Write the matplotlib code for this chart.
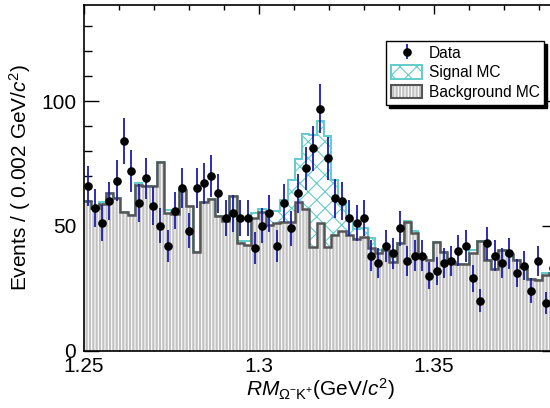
import numpy as np
import matplotlib
matplotlib.use("Agg")
import matplotlib.pyplot as plt
from matplotlib.patches import Patch
from matplotlib.ticker import MultipleLocator, FixedLocator, FixedFormatter

# ---------------- data ----------------
x_min, x_max, n_bins = 1.25, 1.385, 65

data_counts = [66, 57, 51, 60, 68, 84, 72, 59, 69, 58, 50, 42, 56, 65, 48, 65,
               67, 70, 63, 53, 55, 53, 53, 41, 50, 55, 42, 59, 49, 63, 73, 81,
               97, 77, 61, 60, 53, 51, 53, 38, 35, 42, 39, 49, 36, 38, 38, 30,
               32, 35, 36, 40, 42, 29, 20, 43, 38, 35, 39, 31, 34, 24, 36, 19, 33]

bkg_mc = [60, 57, 58.8, 63, 61, 55.7, 54.4, 66.3, 65.8, 66.1, 75.6, 55, 54.8, 64.5, 58, 39.3,
          59.4, 60.7, 54, 52, 61.8, 43.2, 42.3, 53.2, 55.4, 50.5, 51, 51.5, 51.7, 59.4, 56.8, 41.5,
          51, 41.5, 46.4, 48.1, 46.3, 44.7, 45.6, 41, 38.9, 40.1, 35.5, 43, 51.4, 47, 37.5, 36.4,
          43.5, 39.5, 35.4, 34.8, 34.8, 39.2, 44, 36.2, 32.5, 40.4, 38.7, 36.2, 33.4, 28.5, 28.4, 30.3, 31]

sig_mc = [0, 0, 0.6, 0, 0, 0, 0, 0.8, 0, 0, 0, 1.5, 0, 0, 0, 0,
          0, 0, 0, 0, 0, 0.5, 1.5, 2, 1.5, 4.5, 5, 9, 16.5, 17.5, 30, 45,
          41, 44.5, 22, 12, 7, 4, 3.5, 4, 1.5, 0.5, 2, 0, 0.5, 1, 0, 0,
          0, 0, 0, 0, 0, 1, 0, 0, 0, 0, 0, 0, 0, 0, 0, 0.8, 0]

x_ticks = [1.25, 1.3, 1.35]
x_tick_labels = ["1.25", "1.3", "1.35"]
y_ticks = [0, 50, 100]
y_tick_labels = ["0", "50", "100"]

# ---------------- style ----------------
plt.rcParams['font.family'] = ['Liberation Sans', 'DejaVu Sans']
plt.rcParams['mathtext.fontset'] = 'custom'
plt.rcParams['mathtext.rm'] = 'Liberation Sans'
plt.rcParams['mathtext.it'] = 'Liberation Sans:italic'
plt.rcParams['mathtext.bf'] = 'Liberation Sans:bold'
plt.rcParams['hatch.linewidth'] = 0.8

cyan = '#62cccc'
bg_fill = '#c2c2c2'
bg_line = '#555555'
err_col = '#1c1cb0'

edges = np.linspace(x_min, x_max, n_bins + 1)
centers = 0.5 * (edges[:-1] + edges[1:])
data = np.array(data_counts, dtype=float)
bkg = np.array(bkg_mc, dtype=float)
sig = np.array(sig_mc, dtype=float)
tot = bkg + sig

fig = plt.figure(figsize=(5.5, 4.08), dpi=100)
W, H = 550.0, 408.0
ax = fig.add_axes([84 / W, (H - 350.5) / H, 472.5 / W, 345.5 / H])
ax.set_axisbelow(True)

# background fill with white vertical hatch
ax.stairs(bkg, edges, baseline=0, fill=True, facecolor=bg_fill, edgecolor='white',
          hatch='|||||', linewidth=0, zorder=1)
# signal stacked on top, cyan cross hatch
ax.stairs(tot, edges, baseline=bkg, fill=True, facecolor='white', edgecolor=cyan,
          hatch='xx', linewidth=0, zorder=1.1)
ax.stairs(tot, edges, baseline=None, color=cyan, linewidth=1.4, zorder=1.2)
ax.stairs(bkg, edges, baseline=None, color=bg_line, linewidth=1.8, zorder=1.3)

eb = ax.errorbar(centers, data, yerr=np.sqrt(data), fmt='o', color='black',
                 markersize=5.2, ecolor=err_col, elinewidth=1.3, capsize=0, zorder=3)

ax.set_xlim(x_min, x_max)
ax.set_ylim(0, 138.5)

ax.xaxis.set_major_locator(FixedLocator(x_ticks))
ax.xaxis.set_major_formatter(FixedFormatter(x_tick_labels))
ax.xaxis.set_minor_locator(MultipleLocator(0.01))
ax.yaxis.set_major_locator(FixedLocator(y_ticks))
ax.yaxis.set_major_formatter(FixedFormatter(y_tick_labels))
ax.yaxis.set_minor_locator(MultipleLocator(10))

ax.tick_params(axis='both', which='both', direction='in', top=True, right=True,
               labelsize=15, width=1.0, colors='black')
ax.tick_params(axis='x', which='major', length=6.5, pad=4.5)
ax.tick_params(axis='x', which='minor', length=3.3)
ax.tick_params(axis='y', which='major', length=10.8, pad=5.5)
ax.tick_params(axis='y', which='minor', length=5.4)
for s in ax.spines.values():
    s.set_linewidth(1.2)
    s.set_zorder(4)

ax.set_xlabel(r'$RM_{\Omega^{-}\mathrm{K}^{+}}$(GeV/$c^{2}$)', fontsize=15)
ax.xaxis.set_label_coords(0.5, -0.075)
ax.set_ylabel(r'Events / ( 0.002 GeV/$c^{2}$)', fontsize=15)
ax.yaxis.set_label_coords(-0.108, 0.5)

h_sig = Patch(facecolor='white', edgecolor=cyan, hatch='xx', linewidth=1.4)
h_bkg_fill = Patch(facecolor=bg_fill, edgecolor='white', hatch='|||||', linewidth=0)
h_bkg_edge = Patch(facecolor='none', edgecolor=bg_line, linewidth=1.5)
leg = ax.legend([eb, h_sig, (h_bkg_fill, h_bkg_edge)], ['Data', 'Signal MC', 'Background MC'],
                loc='upper left', bbox_to_anchor=(0.639, 0.896), borderaxespad=0,
                fontsize=11.2, frameon=True, fancybox=False, edgecolor='black',
                framealpha=1, handlelength=2.05, handleheight=0.95, handletextpad=0.4,
                labelspacing=0.3, borderpad=0.3,
                shadow={'color': 'black', 'alpha': 1.0, 'ox': 2, 'oy': -2})
leg.get_frame().set_linewidth(1.0)
leg.set_zorder(5)

fig.savefig('out.png', dpi=100)
